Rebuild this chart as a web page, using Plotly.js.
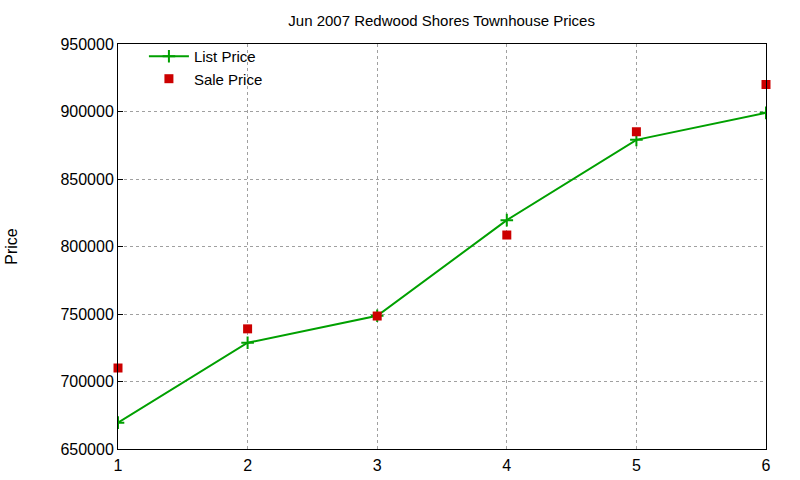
<!DOCTYPE html>
<html>
<head>
<meta charset="utf-8">
<script src="https://cdn.plot.ly/plotly-3.0.1.min.js"></script>
<style>
  body { margin: 0; background: #fff; }
  #chart { width: 800px; height: 480px; }
</style>
</head>
<body>
<div id="chart"></div>
<script>
let months = [1, 2, 3, 4, 5, 6];
let listPrice = [669500, 728700, 748700, 819500, 879000, 899000];
let salePrice = [710000, 739000, 748500, 808500, 885000, 920000];

let font = 'Liberation Sans, Arial, sans-serif';

let traces = [
  {
    x: months,
    y: listPrice,
    mode: 'lines+markers',
    name: 'List Price',
    line: { color: '#00a000', width: 2 },
    marker: { symbol: 'cross-thin', size: 9, line: { color: '#00a000', width: 2 } }
  },
  {
    x: months,
    y: salePrice,
    mode: 'markers',
    name: 'Sale Price',
    marker: { symbol: 'square', size: 9, color: '#cc0000' },
    cliponaxis: false
  }
];

function axis(extra) {
  let a = {
    showline: true,
    linecolor: '#000',
    linewidth: 1,
    mirror: true,
    showgrid: true,
    gridcolor: '#a0a0a0',
    griddash: 'dot',
    gridwidth: 1,
    zeroline: false,
    ticks: 'inside',
    ticklen: 5,
    tickcolor: '#000',
    tickfont: { family: font, size: 16, color: '#000' }
  };
  return Object.assign(a, extra);
}

let layout = {
  width: 800,
  height: 480,
  paper_bgcolor: '#fff',
  plot_bgcolor: '#fff',
  font: { family: font, color: '#000' },
  title: {
    text: 'Jun 2007 Redwood Shores Townhouse Prices',
    font: { family: font, size: 15, color: '#000' },
    x: 0.552,
    xanchor: 'center',
    y: 0.956,
    yanchor: 'middle'
  },
  margin: { l: 118, r: 34, t: 44, b: 31 },
  xaxis: axis({
    range: [1, 6],
    tickvals: months,
    ticklen: 0,
    ticklabelstandoff: 2
  }),
  yaxis: axis({
    range: [650000, 950000],
    dtick: 50000,
    tickformat: 'd',
    title: { text: 'Price', font: { family: font, size: 16, color: '#000' }, standoff: 38 }
  }),
  showlegend: true,
  legend: {
    x: 0.04,
    y: 1.01,
    xanchor: 'left',
    yanchor: 'top',
    bgcolor: 'rgba(255,255,255,0)',
    font: { family: font, size: 15, color: '#000' },
    tracegroupgap: 0,
    itemwidth: 40
  }
};

Plotly.newPlot('chart', traces, layout, { displayModeBar: false, staticPlot: true });
</script>
</body>
</html>
